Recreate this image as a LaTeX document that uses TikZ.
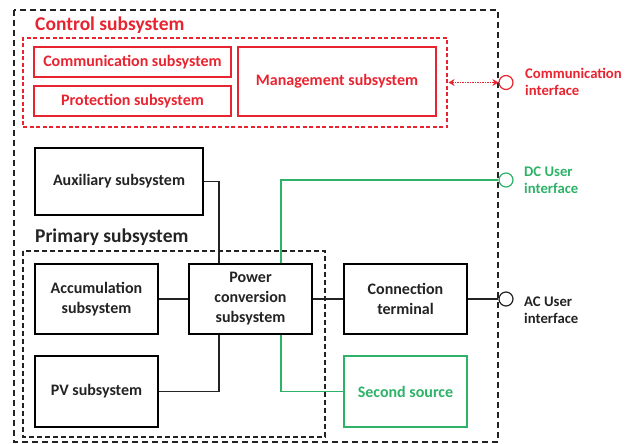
\documentclass[tikz,border=0pt]{standalone}
\usepackage{fontspec}
\setmainfont{Carlito}
\usetikzlibrary{arrows.meta}

\definecolor{ctrlred}{RGB}{232,36,48}
\definecolor{srcgreen}{RGB}{46,178,104}
\definecolor{darktext}{RGB}{35,35,35}

\tikzset{
  subbox/.style={draw, line width=1.3pt, align=center, inner sep=2pt,
    font=\fontsize{16}{20}\selectfont\bfseries, text=darktext},
  ctrlbox/.style={subbox, draw=ctrlred, text=ctrlred, line width=1.2pt},
  port/.style={draw, circle, line width=1.2pt, minimum size=14pt, inner sep=0pt, fill=white},
  portlabel/.style={anchor=west, align=left, inner sep=0pt,
    font=\fontsize{14.7}{17}\selectfont\bfseries},
  grouplabel/.style={anchor=west, inner sep=0pt, font=\fontsize{19.5}{22}\selectfont\bfseries},
  wire/.style={line width=1.3pt, darktext}
}

\begin{document}
\begin{tikzpicture}[x=1pt,y=-1pt]
        \useasboundingbox (0,0) rectangle (637,444);

        %outer frame
        \draw[line width=1.4pt, dash pattern=on 6pt off 4pt, darktext] (14,10) rectangle (498,442);

        %control subsystem
        \node[grouplabel, text=ctrlred] (ctrltitle) at (35,25) {Control subsystem};
        \node[draw=ctrlred, line width=1.1pt, dash pattern=on 4pt off 2.5pt,
              minimum width=424pt, minimum height=89pt] (ctrlgroup) at (235,82.5) {};
        \node[ctrlbox, minimum width=197pt, minimum height=30pt] (commsub) at (132.5,62) {Communication subsystem};
        \node[ctrlbox, minimum width=197pt, minimum height=30pt] (protsub) at (132.5,101) {Protection subsystem};
        \node[ctrlbox, minimum width=198pt, minimum height=69pt] (mgmtsub) at (337,81.5) {Management subsystem};

        %primary subsystem
        \node[grouplabel, text=darktext] (primtitle) at (35,237) {Primary subsystem};
        \draw[line width=1.2pt, dash pattern=on 5pt off 3pt, darktext] (23,251) rectangle (325,437);
        \node[subbox, minimum width=168pt, minimum height=67pt] (aux) at (119,181.5) {Auxiliary subsystem};
        \node[subbox, minimum width=123pt, minimum height=70pt] (accum) at (96.5,299) {Accumulation\\subsystem};
        \node[subbox, minimum width=123pt, minimum height=70pt] (power) at (250.5,299) {Power\\conversion\\subsystem};
        \node[subbox, minimum width=123pt, minimum height=71pt] (pv) at (96.5,391.5) {PV subsystem};
        \node[subbox, minimum width=123pt, minimum height=70pt] (conn) at (405.5,299) {Connection\\terminal};
        \node[subbox, draw=srcgreen, text=srcgreen, minimum width=123pt, minimum height=71pt] (second) at (405.5,391.5) {Second source};

        %interfaces
        \node[port, draw=ctrlred] (commport) at (506,82.5) {};
        \node[port, draw=srcgreen] (dcport) at (506,180) {};
        \node[port, draw=darktext] (acport) at (506,299) {};
        \node[portlabel, text=ctrlred] (commtext) at (525,81.5) {Communication\\interface};
        \node[portlabel, text=srcgreen] (dctext) at (524,180) {DC User\\interface};
        \node[portlabel, text=darktext] (actext) at (524,310) {AC User\\interface};

        %connections
        \draw[wire] (aux.east) -| ([xshift=-31.5pt]power.north);
        \draw[wire] (pv.east) -| ([xshift=-31.5pt]power.south);
        \draw[wire] (accum) -- (power);
        \draw[wire] (power) -- (conn);
        \draw[wire] (conn) -- (acport);
        \draw[wire, srcgreen] ([xshift=30.5pt]power.north) |- (dcport);
        \draw[wire, srcgreen] ([xshift=30.5pt]power.south) |- (second);
        \draw[ctrlred, line width=1pt, dash pattern=on 1.5pt off 1pt,
              {Stealth[length=6pt,width=7pt]}-{Stealth[length=6pt,width=7pt]}]
             ([xshift=1pt]ctrlgroup.east) -- (commport.west);
    \end{tikzpicture}
\end{document}
